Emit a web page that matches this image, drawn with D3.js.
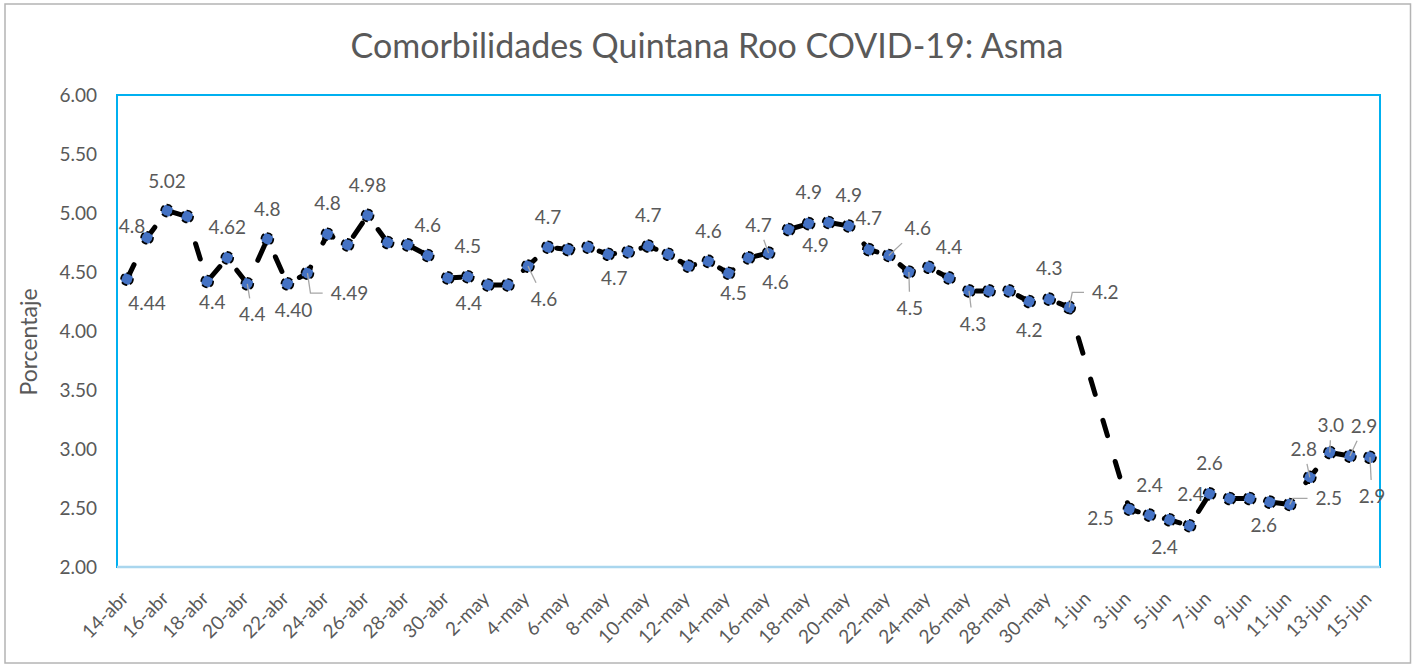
<!DOCTYPE html>
<html><head><meta charset="utf-8">
<script src="https://cdn.jsdelivr.net/npm/d3@7"></script>
<style>body{margin:0;background:#fff} text{font-family:Lato, sans-serif}</style>
</head><body><svg id="c" width="1415" height="668"></svg>
<script>
// ---------------- data ----------------
const categories = ["14-abr","15-abr","16-abr","17-abr","18-abr","19-abr","20-abr","21-abr","22-abr","23-abr","24-abr","25-abr","26-abr","27-abr","28-abr","29-abr","30-abr",
"1-may","2-may","3-may","4-may","5-may","6-may","7-may","8-may","9-may","10-may","11-may","12-may","13-may","14-may","15-may","16-may","17-may","18-may","19-may","20-may","21-may","22-may","23-may","24-may","25-may","26-may","27-may","28-may","29-may","30-may","31-may",
"1-jun","2-jun","3-jun","4-jun","5-jun","6-jun","7-jun","8-jun","9-jun","10-jun","11-jun","12-jun","13-jun","14-jun","15-jun"];
const tickLabels = ["14-abr","16-abr","18-abr","20-abr","22-abr","24-abr","26-abr","28-abr","30-abr","2-may","4-may","6-may","8-may","10-may","12-may","14-may","16-may","18-may","20-may","22-may","24-may","26-may","28-may","30-may","1-jun","3-jun","5-jun","7-jun","9-jun","11-jun","13-jun","15-jun"];
const values = [4.44,4.79,5.02,4.97,4.42,4.62,4.40,4.78,4.40,4.49,
4.82,4.73,4.98,4.75,4.73,4.64,4.45,4.46,4.39,4.39,
4.55,4.71,4.69,4.71,4.65,4.67,4.72,4.65,4.55,4.59,
4.49,4.62,4.66,4.86,4.91,4.92,4.89,4.69,4.64,4.50,
4.54,4.45,4.34,4.34,4.34,4.25,4.27,4.20,null,null,
2.49,2.44,2.40,2.35,2.62,2.58,2.58,2.55,2.53,2.76,2.97,2.94,2.93];
const labelIdx = [0,1,2,4,5,6,7,8,9,10,12,15,17,18,20,21,24,26,29,30,31,32,33,34,36,37,38,39,41,42,45,46,47,50,51,52,53,54,57,58,59,60,61,62];
const labelText = ["4.44","4.8","5.02","4.4","4.62","4.4","4.8","4.40","4.49","4.8","4.98","4.6","4.5","4.4","4.6","4.7","4.7","4.7","4.6","4.5","4.6","4.7","4.9","4.9","4.9","4.7","4.6","4.5","4.4","4.3","4.2","4.3","4.2","2.5","2.4","2.4","2.4","2.6","2.6","2.5","2.8","3.0","2.9","2.9"];
const yTicks = [2.0,2.5,3.0,3.5,4.0,4.5,5.0,5.5,6.0];
const titleText = "Comorbilidades Quintana Roo COVID-19: Asma";
const yTitle = "Porcentaje";

// ---------------- layout (label placement offsets from point, leader type) ----------------
const labelOffsets = [[20,24],[-15,-11],[0,-29],[5,21],[0,-30],[5,31,'L'],[0,-30],[6,27],[42,20,'E'],[0,-31],
[0,-30],[0,-30],[0,-30],[-19,18],[16,33,'L'],[0,-30],[6,24],[0,-31],[0,-30],[5,20],
[27,25],[-10,-28,'L'],[27,16],[0,-31],[0,-31],[0,-31],[29,-27,'L'],[1,36,'L'],[0,-31],[4,33,'L'],
[0,29],[0,-31],[36,-15,'E'],[-29,9],[0,-30],[-5,28],[1,-31],[0,-30],[-6,23],[39,-6,'E'],
[-6,-28,'L'],[1,-27,'L'],[14,-30,'L'],[2,39,'L']];

const plot = {left:117, right:1380, top:95, bottom:567};
const txt = '#595959';
const svg = d3.select('#c');

svg.append('rect').attr('x',5).attr('y',4).attr('width',1405.5).attr('height',659)
  .attr('fill','#fff').attr('stroke','#b4b4b4').attr('stroke-width',1.5);

const x = d3.scaleBand().domain(categories).range([plot.left, plot.right]).padding(0);
const cx = c => x(c) + x.bandwidth()/2;
const y = d3.scaleLinear().domain([2,6]).range([plot.bottom, plot.top]);

// title
svg.append('text').attr('x',707).attr('y',58).attr('text-anchor','middle')
  .style('font-size','34px').attr('fill',txt).text(titleText);

// y axis
const gy = svg.append('g').attr('transform',`translate(${plot.left},0)`)
  .call(d3.axisLeft(y).tickValues(yTicks).tickFormat(d3.format('.2f')).tickSize(0).tickPadding(20));
gy.select('.domain').remove();
gy.selectAll('text').style('font-size','19px').style('font-family','Lato').attr('fill',txt);

svg.append('text').attr('transform',`translate(37,342) rotate(-90)`).attr('text-anchor','middle')
  .style('font-size','23px').attr('fill',txt).text(yTitle);

// x axis
const gx = svg.append('g').attr('transform',`translate(0,${plot.bottom})`)
  .call(d3.axisBottom(x).tickValues(tickLabels).tickSize(0));
gx.select('.domain').remove();
gx.selectAll('text').attr('x',0).attr('y',0).attr('dy','0.35em')
  .attr('text-anchor','end').attr('transform','translate(-2,28) rotate(-45)')
  .style('font-size','19px').style('font-family','Lato').attr('fill',txt);

// plot border
svg.append('rect').attr('x',plot.left).attr('y',plot.top)
  .attr('width',plot.right-plot.left).attr('height',plot.bottom-plot.top)
  .attr('fill','none').attr('stroke','#00b0f0').attr('stroke-width',2);
svg.append('line').attr('x1',plot.left).attr('x2',plot.right).attr('y1',plot.bottom).attr('y2',plot.bottom)
  .attr('stroke','#a9d6ee').attr('stroke-width',2.5);

// series
const pts = categories.map((c,i)=>({c, v:values[i], i})).filter(d=>d.v!==null);
const line = d3.line().x(d=>cx(d.c)).y(d=>y(d.v));
svg.append('path').datum(pts).attr('d',line).attr('fill','none')
  .attr('stroke','#000').attr('stroke-width',5).attr('stroke-dasharray','16 27')
  .attr('stroke-linecap','round').attr('stroke-linejoin','round');

svg.append('g').selectAll('circle').data(pts).join('circle')
  .attr('cx',d=>cx(d.c)).attr('cy',d=>y(d.v)).attr('r',6)
  .attr('fill','#4472c4').attr('stroke','#000').attr('stroke-width',1.6).attr('stroke-dasharray','6 3');

// data labels
const gl = svg.append('g');
const gt = svg.append('g');
labelIdx.forEach((idx,k)=>{
  const px = cx(categories[idx]), py = y(values[idx]);
  const o = labelOffsets[k];
  const lx = px + o[0], ly = py + o[1];
  const t = gt.append('text').attr('x',lx).attr('y',ly).attr('dy','0.35em')
    .attr('text-anchor','middle').style('font-size','19px').attr('fill',txt).text(labelText[k]);
  if (o[2]) {
    const b = t.node().getBBox();
    let p;
    if (o[2]==='E') {
      p = [[px,py],[px+3,ly],[b.x-8,ly]];
    } else {
      const pad = 4;
      const x0=b.x-pad, x1=b.x+b.width+pad, y0=b.y-pad, y1=b.y+b.height+pad;
      const dx = lx-px, dy = ly-py;
      let ty = -1;
      if (dy>0) ty=(y0-py)/dy; else if (dy<0) ty=(y1-py)/dy;
      const tt = Math.max(dx!==0?((dx>0?(x0-px):(x1-px))/dx):-1, ty);
      const tu = Math.max(0, Math.min(1, tt));
      p = [[px,py],[px+dx*tu, py+dy*tu]];
    }
    gl.append('path').attr('d',d3.line()(p)).attr('fill','none').attr('stroke','#a6a6a6').attr('stroke-width',1.3);
  }
});
</script></body></html>
